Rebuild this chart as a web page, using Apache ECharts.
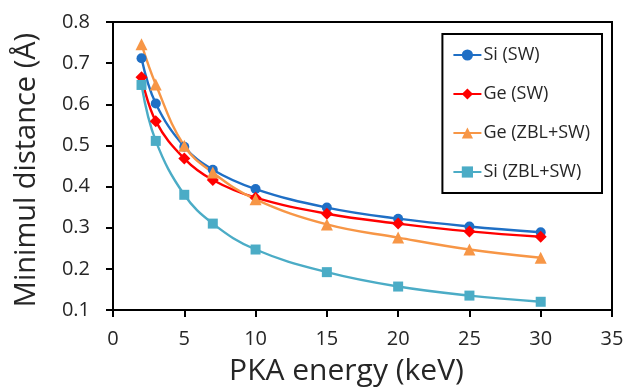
<!DOCTYPE html>
<html><head><meta charset="utf-8">
<script src="https://cdn.jsdelivr.net/npm/echarts@6/dist/echarts.min.js"></script>
<style>html,body{margin:0;padding:0;background:#fff}#c{width:623px;height:388px}</style>
</head><body><div id="c"></div>
<script>
const energies = [2, 3, 5, 7, 10, 15, 20, 25, 30];
const siSW    = [0.712, 0.602, 0.497, 0.441, 0.394, 0.349, 0.322, 0.303, 0.289];
const geSW    = [0.666, 0.559, 0.468, 0.416, 0.373, 0.334, 0.310, 0.291, 0.278];
const geZBL   = [0.746, 0.648, 0.499, 0.434, 0.369, 0.308, 0.276, 0.247, 0.227];
const siZBL   = [0.647, 0.511, 0.380, 0.310, 0.247, 0.192, 0.157, 0.135, 0.120];
const seriesNames = ['Si (SW)', 'Ge (SW)', 'Ge (ZBL+SW)', 'Si (ZBL+SW)'];
const xTicks = [0, 5, 10, 15, 20, 25, 30, 35];
const yTicks = [0.1, 0.2, 0.3, 0.4, 0.5, 0.6, 0.7, 0.8];

const FONT = 'Open Sans';
const TXT = '#262626';
function pairs(ys){ return energies.map((x,i)=>[x, ys[i]]); }
const defs = [
  {name: seriesNames[0], data: siSW,  color: '#1F6FC5', symbol: 'circle',   size: 10},
  {name: seriesNames[1], data: geSW,  color: '#FF0000', symbol: 'diamond',  size: 12},
  {name: seriesNames[2], data: geZBL, color: '#F79646', symbol: 'triangle', size: 12},
  {name: seriesNames[3], data: siZBL, color: '#4BACC6', symbol: 'rect',     size: 10}
];
const chart = echarts.init(document.getElementById('c'));
chart.setOption({
  animation: false,
  backgroundColor: '#fff',
  grid: {left: 113, right: 11, top: 22, bottom: 78, containLabel: false, outerBoundsMode: 'none',
         show: true, borderColor: '#000', borderWidth: 2, backgroundColor: 'transparent'},
  legend: {
    orient: 'vertical', right: 21, top: 34,
    backgroundColor: '#fff', borderColor: '#000', borderWidth: 2,
    padding: [12, 12, 12, 10],
    itemWidth: 28, itemHeight: 14, itemGap: 21,
    textStyle: {fontFamily: FONT, fontSize: 18, color: TXT, padding: [0,0,0,-3]},
    data: seriesNames
  },
  xAxis: {
    type: 'value', min: xTicks[0], max: xTicks[xTicks.length-1], interval: 5,
    name: 'PKA energy (keV)', nameLocation: 'middle', nameGap: 46,
    nameTextStyle: {fontFamily: FONT, fontSize: 30, color: TXT, padding: [0, 32, 0, 0]},
    axisLine: {show: true, lineStyle: {color: '#000', width: 2}},
    axisTick: {show: true, length: 7, lineStyle: {color: '#000', width: 2}},
    axisLabel: {fontFamily: FONT, fontSize: 20, color: TXT, margin: 19},
    splitLine: {show: false}
  },
  yAxis: {
    type: 'value', min: yTicks[0], max: yTicks[yTicks.length-1], interval: 0.1,
    name: 'Minimul distance (Å)', nameLocation: 'middle', nameGap: 72,
    nameTextStyle: {fontFamily: FONT, fontSize: 29, color: TXT, padding: [0, 8, 0, 0]},
    axisLine: {show: true, lineStyle: {color: '#000', width: 2}},
    axisTick: {show: true, length: 7, lineStyle: {color: '#000', width: 2}},
    axisLabel: {fontFamily: FONT, fontSize: 20, color: TXT, margin: 23, formatter: v => v.toFixed(1)},
    splitLine: {show: false}
  },
  series: defs.map(d => ({
    name: d.name, type: 'line', data: pairs(d.data), smooth: 0.4,
    symbol: d.symbol, symbolSize: d.size,
    lineStyle: {color: d.color, width: 2.4},
    itemStyle: {color: d.color},
    color: d.color
  }))
});
</script></body></html>
